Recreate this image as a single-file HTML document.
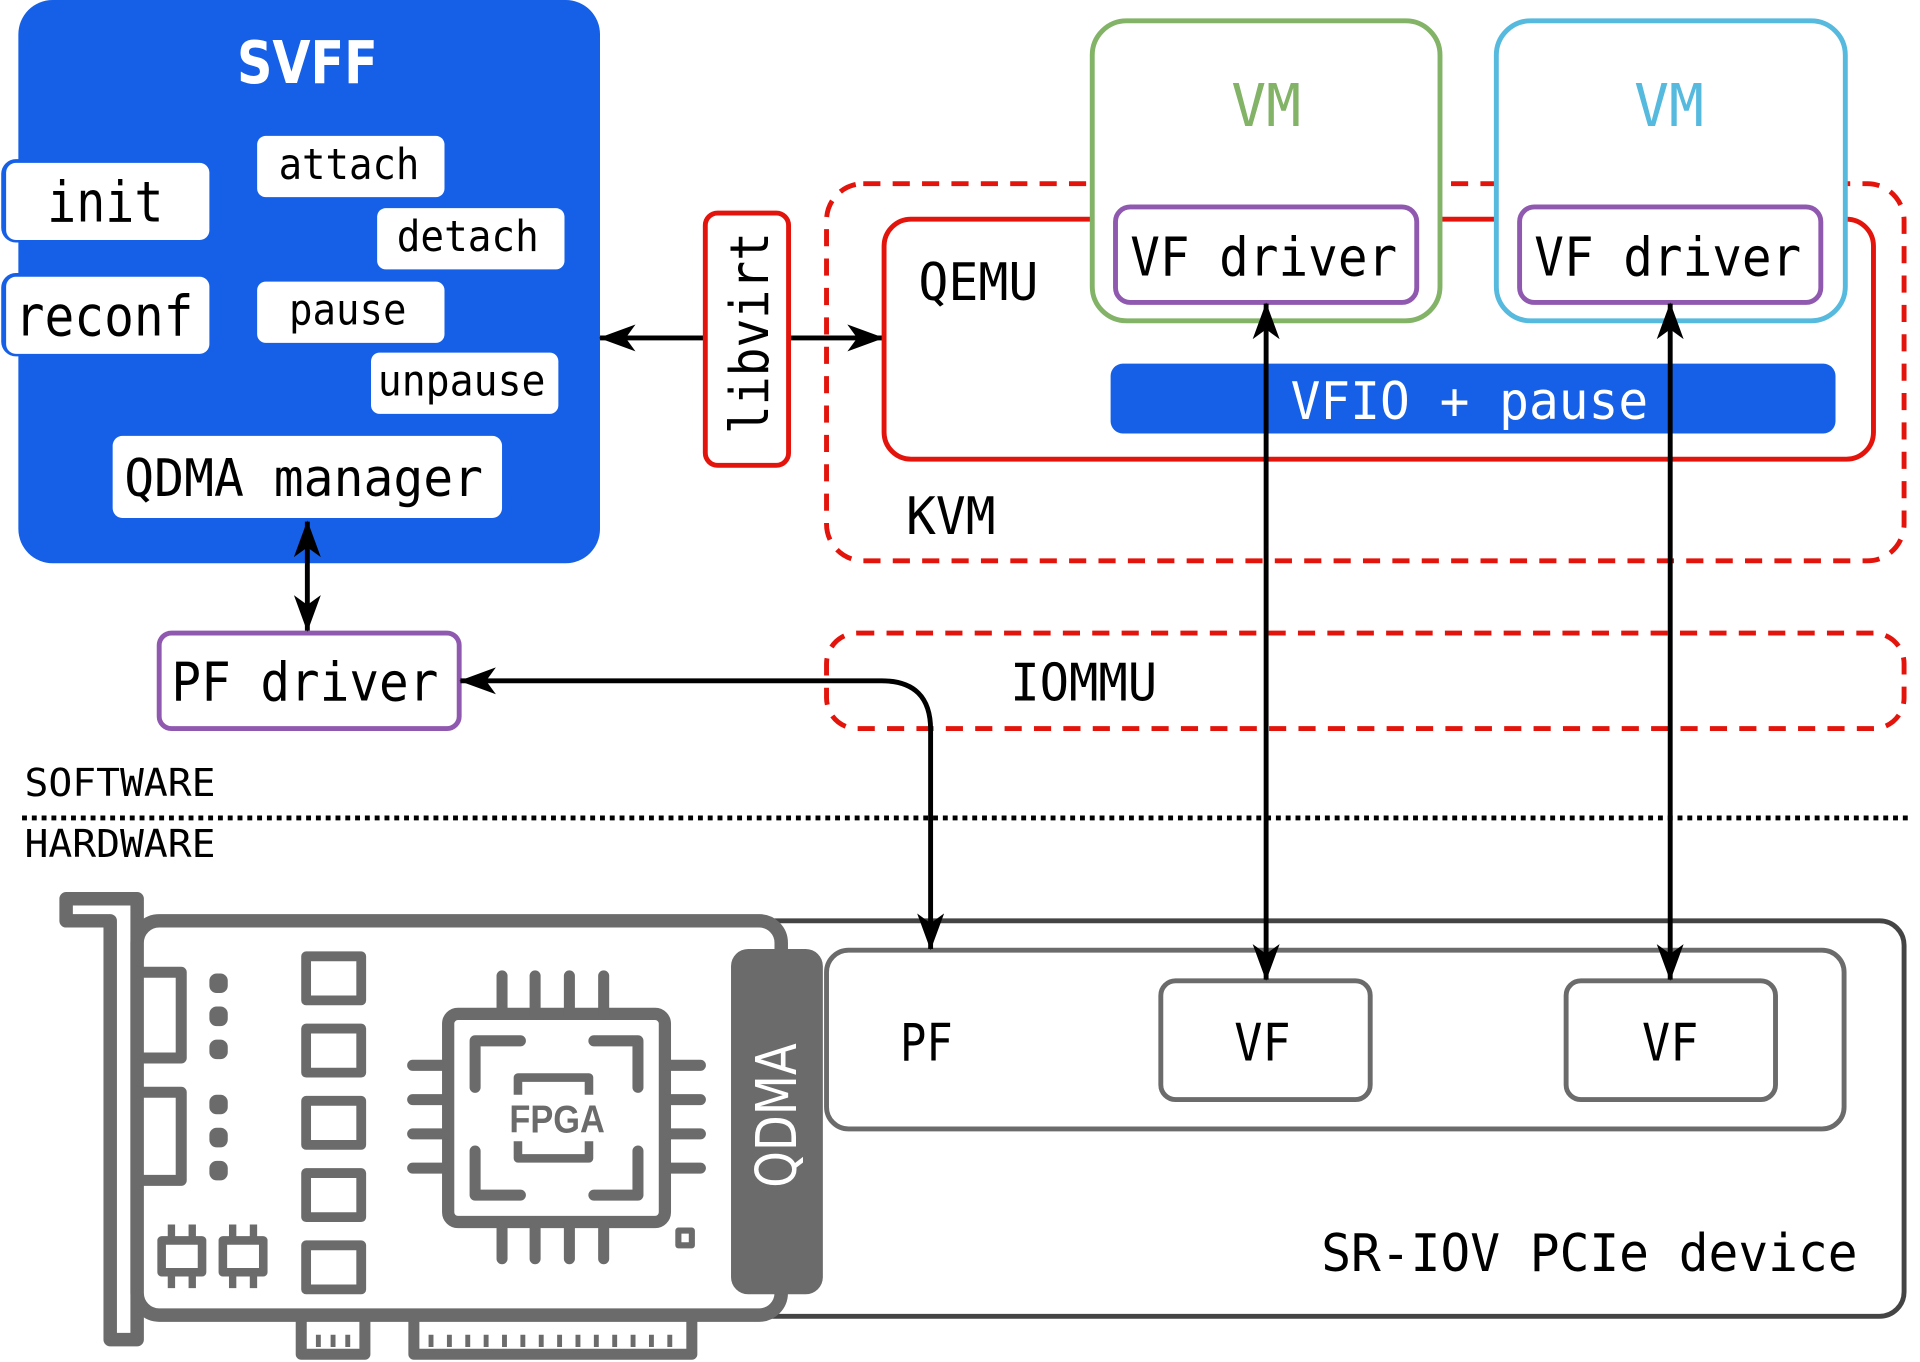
<!DOCTYPE html>
<html><head><meta charset="utf-8"><style>
html,body{margin:0;padding:0;background:#fff;width:1920px;height:1362px;overflow:hidden}
svg{display:block}
text{font-family:"DejaVu Sans Mono","Liberation Mono",monospace}
</style></head><body>
<svg width="1920" height="1362" viewBox="0 0 1568 1112.3" preserveAspectRatio="none" xmlns="http://www.w3.org/2000/svg">
<defs>
<marker id="ah" viewBox="0 0 30 22" refX="29" refY="11" markerWidth="30" markerHeight="22" markerUnits="userSpaceOnUse" orient="auto-start-reverse">
<path d="M0,0 L30,11 L0,22 L8,11 Z" fill="#000"/></marker>
</defs>
<!-- SVFF -->
<rect x="15" y="0" width="475" height="460" rx="28" fill="#1560e6"/>
<text x="251" y="68" text-anchor="middle" font-weight="bold" font-size="48" fill="#fff" textLength="115" lengthAdjust="spacingAndGlyphs" style="font-family:'DejaVu Sans Condensed','DejaVu Sans',sans-serif">SVFF</text>
<rect x="1" y="130" width="172" height="68" rx="12" fill="#1560e6"/>
<rect x="5" y="133" width="166" height="63" rx="8" fill="#fff"/>
<text x="86" y="181" text-anchor="middle" font-size="46" textLength="95" lengthAdjust="spacingAndGlyphs">init</text>
<rect x="1" y="223" width="172" height="68" rx="12" fill="#1560e6"/>
<rect x="5" y="226" width="166" height="63" rx="8" fill="#fff"/>
<text x="85" y="274" text-anchor="middle" font-size="46" textLength="146" lengthAdjust="spacingAndGlyphs">reconf</text>
<rect x="210" y="111" width="153" height="50" rx="7" fill="#fff"/>
<text x="285" y="146" text-anchor="middle" font-size="35" textLength="115" lengthAdjust="spacingAndGlyphs">attach</text>
<rect x="308" y="170" width="153" height="50" rx="7" fill="#fff"/>
<text x="382" y="205" text-anchor="middle" font-size="35" textLength="116" lengthAdjust="spacingAndGlyphs">detach</text>
<rect x="210" y="230" width="153" height="50" rx="7" fill="#fff"/>
<text x="284" y="265" text-anchor="middle" font-size="35" textLength="96" lengthAdjust="spacingAndGlyphs">pause</text>
<rect x="303" y="288" width="153" height="50" rx="7" fill="#fff"/>
<text x="377" y="323" text-anchor="middle" font-size="35" textLength="137" lengthAdjust="spacingAndGlyphs">unpause</text>
<rect x="92" y="356" width="318" height="67" rx="8" fill="#fff"/>
<text x="248" y="405" text-anchor="middle" font-size="42" textLength="293" lengthAdjust="spacingAndGlyphs">QDMA manager</text>
<!-- libvirt -->
<line x1="490" y1="276" x2="576" y2="276" stroke="#000" stroke-width="4" marker-start="url(#ah)"/>
<line x1="644" y1="276" x2="721" y2="276" stroke="#000" stroke-width="4" marker-end="url(#ah)"/>
<rect x="576" y="174" width="68" height="206" rx="10" fill="#fff" stroke="#e3140b" stroke-width="4"/>
<text transform="translate(627,272) rotate(-90)" text-anchor="middle" font-size="44" textLength="165" lengthAdjust="spacingAndGlyphs">libvirt</text>
<!-- KVM -->
<rect x="675" y="150" width="880" height="308" rx="30" fill="none" stroke="#e3140b" stroke-width="4" stroke-dasharray="14 10"/>
<rect x="722" y="179" width="808" height="196" rx="22" fill="#fff" stroke="#e3140b" stroke-width="4"/>
<text x="750" y="245" font-size="42" textLength="98" lengthAdjust="spacingAndGlyphs">QEMU</text>
<text x="740" y="436" font-size="42" textLength="73" lengthAdjust="spacingAndGlyphs">KVM</text>
<rect x="892" y="17" width="284" height="245" rx="28" fill="#fff" stroke="#82b366" stroke-width="4"/>
<text x="1034" y="103" text-anchor="middle" font-size="48" fill="#82b366" textLength="57" lengthAdjust="spacingAndGlyphs">VM</text>
<rect x="1222" y="17" width="285" height="245" rx="28" fill="#fff" stroke="#56b9de" stroke-width="4"/>
<text x="1363" y="103" text-anchor="middle" font-size="48" fill="#56b9de" textLength="57" lengthAdjust="spacingAndGlyphs">VM</text>
<rect x="911" y="169" width="246" height="78" rx="12" fill="#fff" stroke="#9059b0" stroke-width="4"/>
<text x="1032" y="225" text-anchor="middle" font-size="44" textLength="218" lengthAdjust="spacingAndGlyphs">VF driver</text>
<rect x="1241" y="169" width="246" height="78" rx="12" fill="#fff" stroke="#9059b0" stroke-width="4"/>
<text x="1362" y="225" text-anchor="middle" font-size="44" textLength="218" lengthAdjust="spacingAndGlyphs">VF driver</text>
<rect x="907" y="297" width="592" height="57" rx="10" fill="#1560e6"/>
<text x="1200" y="342" text-anchor="middle" font-size="42" fill="#fff" textLength="292" lengthAdjust="spacingAndGlyphs">VFIO + pause</text>
<!-- IOMMU -->
<rect x="675" y="517" width="880" height="78" rx="25" fill="none" stroke="#e3140b" stroke-width="4" stroke-dasharray="14 10"/>
<text x="825" y="572" font-size="42" textLength="120" lengthAdjust="spacingAndGlyphs">IOMMU</text>
<!-- PF driver -->
<rect x="130" y="517" width="245" height="78" rx="10" fill="#fff" stroke="#9059b0" stroke-width="4"/>
<text x="249" y="572" text-anchor="middle" font-size="44" textLength="218" lengthAdjust="spacingAndGlyphs">PF driver</text>
<line x1="251" y1="426" x2="251" y2="515" stroke="#000" stroke-width="4" marker-start="url(#ah)" marker-end="url(#ah)"/>
<!-- divider -->
<text x="20" y="650" font-size="31" textLength="156" lengthAdjust="spacingAndGlyphs">SOFTWARE</text>
<line x1="18" y1="668" x2="1562" y2="668" stroke="#000" stroke-width="4" stroke-dasharray="4 4"/>
<text x="20" y="700" font-size="31" textLength="156" lengthAdjust="spacingAndGlyphs">HARDWARE</text>
<!-- SR-IOV -->
<rect x="600" y="752" width="955" height="323" rx="20" fill="#fff" stroke="#444" stroke-width="4"/>
<text x="1517" y="1038" text-anchor="end" font-size="42" textLength="438" lengthAdjust="spacingAndGlyphs">SR-IOV PCIe device</text>
<rect x="675" y="776" width="831" height="146" rx="18" fill="#fff" stroke="#6b6b6b" stroke-width="4"/>
<text x="735" y="866" font-size="42" textLength="43" lengthAdjust="spacingAndGlyphs">PF</text>
<rect x="948" y="801" width="171" height="97" rx="12" fill="#fff" stroke="#6b6b6b" stroke-width="4"/>
<text x="1031" y="866" text-anchor="middle" font-size="42" textLength="46" lengthAdjust="spacingAndGlyphs">VF</text>
<rect x="1279" y="801" width="171" height="97" rx="12" fill="#fff" stroke="#6b6b6b" stroke-width="4"/>
<text x="1364" y="866" text-anchor="middle" font-size="42" textLength="46" lengthAdjust="spacingAndGlyphs">VF</text>
<!-- connectors -->
<path d="M376,556 L720,556 Q760,556 760,596 L760,775" fill="none" stroke="#000" stroke-width="4" marker-start="url(#ah)" marker-end="url(#ah)"/>
<line x1="1034" y1="248" x2="1034" y2="800" stroke="#000" stroke-width="4" marker-start="url(#ah)" marker-end="url(#ah)"/>
<line x1="1364" y1="248" x2="1364" y2="800" stroke="#000" stroke-width="4" marker-start="url(#ah)" marker-end="url(#ah)"/>
<!-- card -->
<g fill="none" stroke="#6b6b6b" stroke-linejoin="round">
<path d="M54,734 L112,734 L112,1094 L90,1094 L90,752 L54,752 Z" stroke-width="11" fill="#fff"/>
<rect x="112" y="752" width="526" height="322" rx="18" stroke-width="11" fill="#fff"/>
<rect x="112" y="794" width="36" height="70" stroke-width="9"/>
<rect x="112" y="892" width="36" height="72" stroke-width="9"/>
<g stroke-width="8">
<rect x="250" y="781" width="45" height="36"/><rect x="250" y="840" width="45" height="36"/>
<rect x="250" y="899" width="45" height="36"/><rect x="250" y="958" width="45" height="36"/>
<rect x="250" y="1017" width="45" height="36"/>
</g>
<rect x="366" y="828" width="177" height="170" rx="8" stroke-width="10" fill="#fff"/>
<g stroke-width="9" stroke-linecap="round">
<path d="M410,828V797M437,828V797M465,828V797M493,828V797"/>
<path d="M410,998V1028M437,998V1028M465,998V1028M493,998V1028"/>
<path d="M366,870H337M366,898H337M366,926H337M366,954H337"/>
<path d="M543,870H572M543,898H572M543,926H572M543,954H572"/>
<path d="M425,850H388V888M485,850H521V888M388,940V976H425M521,940V976H485"/>
</g>
<path d="M423,894V880H481V894M423,932V946H481V932" stroke-width="7"/>
<rect x="554" y="1005" width="11" height="12" stroke-width="5"/>
<rect x="132" y="1013" width="33" height="26" stroke-width="7"/>
<rect x="182" y="1013" width="33" height="26" stroke-width="7"/>
<path d="M140,1013V1000M157,1013V1000M140,1039V1052M157,1039V1052M190,1013V1000M207,1013V1000M190,1039V1052M207,1039V1052" stroke-width="6"/>
<path d="M246,1078V1106H298V1078" stroke-width="9"/>
<path d="M338,1078V1106H565V1078" stroke-width="9"/>
</g>
<path d="M260,1100V1090M272,1100V1090M284,1100V1090" stroke="#6b6b6b" stroke-width="4"/>
<g stroke="#6b6b6b" stroke-width="4">
<path d="M352,1100V1090M367,1100V1090M382,1100V1090M397,1100V1090M412,1100V1090M427,1100V1090M442,1100V1090M457,1100V1090M472,1100V1090M487,1100V1090M502,1100V1090M517,1100V1090M532,1100V1090M547,1100V1090"/>
</g>
<g fill="#6b6b6b">
<rect x="171" y="795" width="15" height="16" rx="6"/><rect x="171" y="822" width="15" height="16" rx="6"/><rect x="171" y="849" width="15" height="16" rx="6"/>
<rect x="171" y="894" width="15" height="16" rx="6"/><rect x="171" y="921" width="15" height="16" rx="6"/><rect x="171" y="948" width="15" height="16" rx="6"/>
</g>
<text x="455" y="925" text-anchor="middle" font-weight="bold" font-size="32" fill="#6b6b6b" textLength="78" lengthAdjust="spacingAndGlyphs" style="font-family:'Liberation Sans Narrow','Liberation Sans',sans-serif">FPGA</text>
<rect x="597" y="775" width="75" height="282" rx="14" fill="#6b6b6b"/>
<text transform="translate(650,911) rotate(-90)" text-anchor="middle" font-size="46" fill="#fff" textLength="118" lengthAdjust="spacingAndGlyphs" style="font-family:'DejaVu Sans Condensed','DejaVu Sans',sans-serif">QDMA</text>
</svg>
</body></html>
